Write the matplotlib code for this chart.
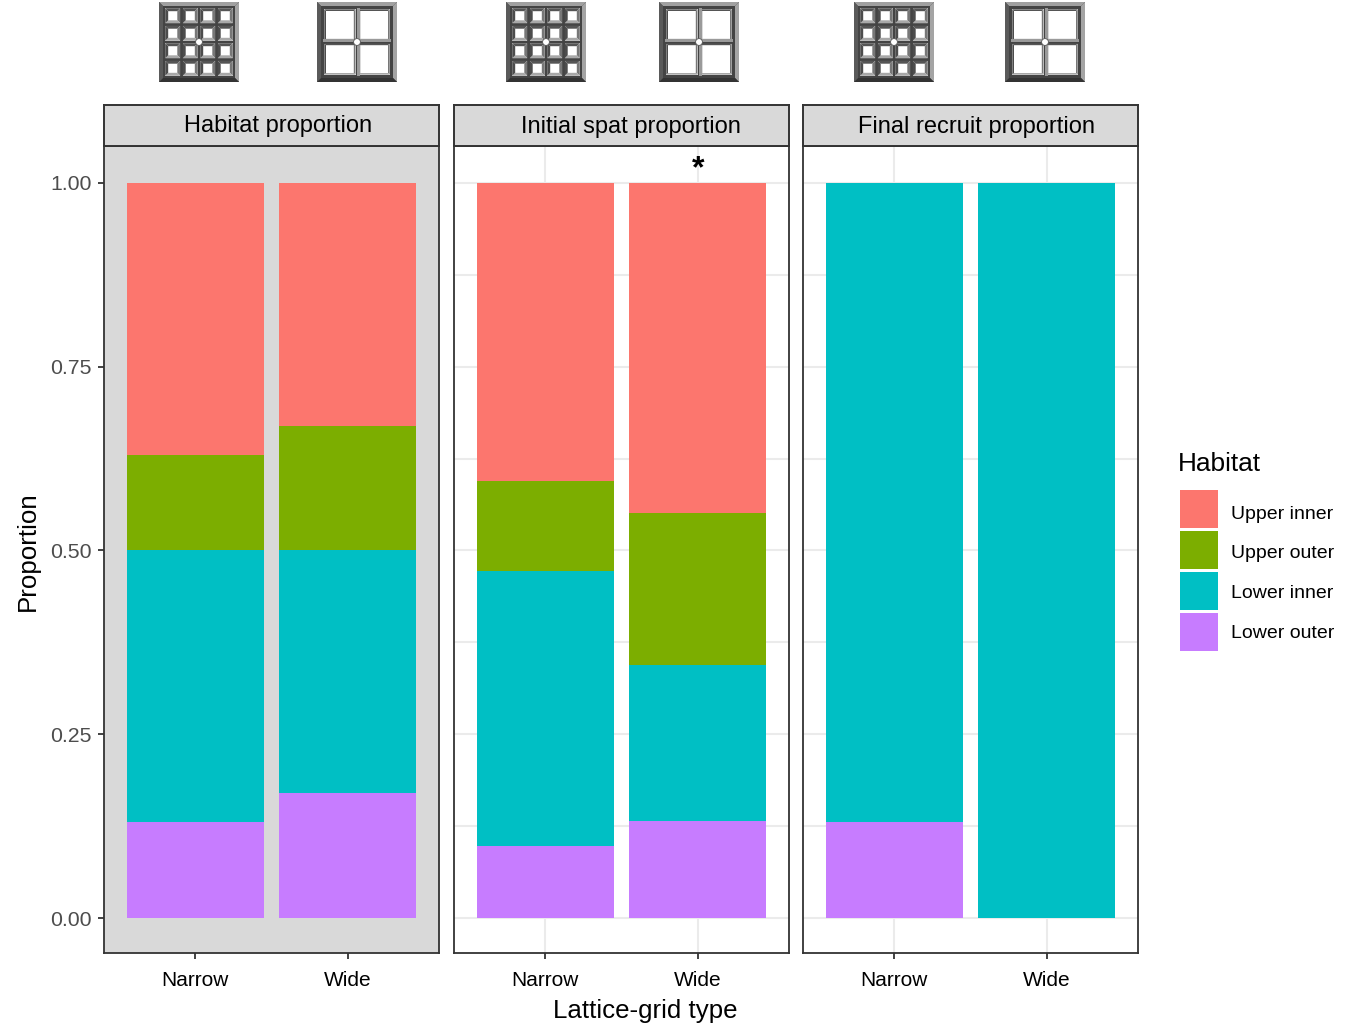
"""
Stacked habitat proportions on narrow and wide lattice grids, three facets.
"""
import matplotlib
matplotlib.use("Agg")
import matplotlib.pyplot as plt
from matplotlib.patches import Circle, Polygon, Rectangle

plt.rcParams["font.family"] = ["Liberation Sans", "DejaVu Sans"]

W, H = 1350, 1032

grid_types = ["Narrow", "Wide"]
habitats = ["Upper inner", "Upper outer", "Lower inner", "Lower outer"]
panel_titles = ["Habitat proportion", "Initial spat proportion", "Final recruit proportion"]
y_ticks = [0.0, 0.25, 0.5, 0.75, 1.0]
y_minor = [0.125, 0.375, 0.625, 0.875]

# proportions per panel, [narrow, wide]
upper_inner = [[0.37, 0.33], [0.406, 0.449], [0.0, 0.0]]
upper_outer = [[0.13, 0.17], [0.122, 0.207], [0.0, 0.0]]
lower_inner = [[0.37, 0.33], [0.374, 0.212], [0.87, 1.0]]
lower_outer = [[0.13, 0.17], [0.098, 0.132], [0.13, 0.0]]

colors = {"Upper inner": "#FC766E", "Upper outer": "#7CAE00",
          "Lower inner": "#00BFC4", "Lower outer": "#C77CFF"}
series = {"Upper inner": upper_inner, "Upper outer": upper_outer,
          "Lower inner": lower_inner, "Lower outer": lower_outer}
stack_order = ["Lower outer", "Lower inner", "Upper outer", "Upper inner"]

panel_left = [104, 454, 803]
panel_width = 335
panel_top, panel_bottom, strip_top = 146, 953, 105
frame = "#333333"


def px_axes(left, top, right, bottom):
    return fig.add_axes([left / W, 1 - bottom / H, (right - left) / W, (bottom - top) / H])


def bevel(ax, x0, y0, x1, y1, w, top, right, bottom, left):
    # four trapezoids round a square
    ix0, iy0, ix1, iy1 = x0 + w, y0 + w, x1 - w, y1 - w
    sides = [([(x0, y0), (x1, y0), (ix1, iy0), (ix0, iy0)], top),
             ([(x1, y0), (x1, y1), (ix1, iy1), (ix1, iy0)], right),
             ([(x1, y1), (x0, y1), (ix0, iy1), (ix1, iy1)], bottom),
             ([(x0, y1), (x0, y0), (ix0, iy0), (ix0, iy1)], left)]
    for pts, c in sides:
        ax.add_patch(Polygon(pts, closed=True, fc=c, ec="none"))


def draw_icon(ax, x0, y0, n):
    size = 80
    x1, y1 = x0 + size, y0 + size
    ax.add_patch(Rectangle((x0, y0), size, size, fc="#444444", ec="none"))
    bevel(ax, x0, y0, x1, y1, 4, "#a0a0a0", "#a4a4a4", "#333333", "#5a5a5a")
    if n == 4:
        inner, gap, depth = 5, 1.2, 3
    else:
        inner, gap, depth = 5.8, 1.5, 1.7
    pitch = (size - 2 * inner) / n
    for i in range(n):
        for j in range(n):
            cx = x0 + inner + i * pitch + gap
            cy = y0 + inner + j * pitch + gap
            s = pitch - 2 * gap
            ax.add_patch(Rectangle((cx, cy), s, s, fc="white", ec="none"))
            bevel(ax, cx, cy, cx + s, cy + s, depth, "#555555", "#777777", "#a8a8a8", "#4c4c4c")
    if n == 2:
        mx, my = x0 + size / 2, y0 + size / 2
        ax.add_patch(Rectangle((mx, y0 + inner), 3, size - 2 * inner, fc="#9a9a9a", ec="none"))
        ax.add_patch(Rectangle((x0 + inner, my - 3), size - 2 * inner, 3, fc="#9a9a9a", ec="none"))
    ax.add_patch(Circle((x0 + size / 2, y0 + size / 2), 3.4, fc="white", ec="#555555", lw=0.6))


fig = plt.figure(figsize=(W / 100, H / 100), dpi=100, facecolor="white")

for k, left in enumerate(panel_left):
    ax = px_axes(left, panel_top, left + panel_width, panel_bottom)
    ax.set_facecolor("#D9D9D9" if k == 0 else "white")
    if k > 0:
        for v in y_ticks + y_minor:
            ax.axhline(v, color="#EBEBEB", lw=1.5, zorder=0)
        for v in [1, 2]:
            ax.axvline(v, color="#EBEBEB", lw=1.5, zorder=0)
    for g in range(2):
        base = 0.0
        for name in stack_order:
            val = series[name][k][g]
            if val > 0:
                ax.bar(g + 1, val, width=0.9, bottom=base, color=colors[name], linewidth=0, zorder=2)
            base += val
    ax.set_xlim(0.4, 2.6)
    ax.set_ylim(-0.0476, 1.0503)
    ax.set_xticks([1, 2])
    ax.set_xticklabels(grid_types, fontsize=15, color="black")
    ax.tick_params(axis="x", length=4, width=1.3, color=frame, pad=9)
    if k == 0:
        ax.set_yticks(y_ticks)
        ax.set_yticklabels([f"{v:.2f}" for v in y_ticks], fontsize=15.3, color="#4D4D4D")
        ax.tick_params(axis="y", length=4, width=1.3, color=frame, pad=5)
    else:
        ax.set_yticks([])
    for s in ax.spines.values():
        s.set_color(frame)
        s.set_linewidth(1.3)

    strip = px_axes(left, strip_top, left + panel_width, panel_top)
    strip.set_facecolor("#D9D9D9")
    strip.set_xticks([])
    strip.set_yticks([])
    for s in strip.spines.values():
        s.set_color(frame)
        s.set_linewidth(1.4)

    if k == 1:
        ax.text(2.005, 1.019, "*", ha="center", va="center", fontsize=23, fontweight="bold", color="black")

# overlay in pixel coordinates for icons, strip titles, axis titles and legend
ov = fig.add_axes([0, 0, 1, 1], facecolor="none")
ov.set_xlim(0, W)
ov.set_ylim(H, 0)
ov.axis("off")

for x, n in [(159, 4), (317, 2), (506, 4), (659, 2), (854, 4), (1005, 2)]:
    draw_icon(ov, x, 2, n)

for x, y, title in zip([278, 630.5, 976], [126, 127, 127], panel_titles):
    ov.text(x, y, title, ha="center", va="center", fontsize=17, color="black")

ov.text(645, 1011, "Lattice-grid type", ha="center", va="center", fontsize=18.6, color="black")
ov.text(28, 551, "Proportion", ha="center", va="center", rotation=90, fontsize=18.6, color="black")

ov.text(1178, 464, "Habitat", ha="left", va="center", fontsize=18.9, color="black")
for i, name in enumerate(habitats):
    ytop = 490 + i * 41
    ov.add_patch(Rectangle((1180, ytop), 38, 38, fc=colors[name], ec="none"))
    ov.text(1231, 514.5 + i * 39.5, name, ha="left", va="center", fontsize=14, color="black")

fig.savefig("out.png", dpi=100)
